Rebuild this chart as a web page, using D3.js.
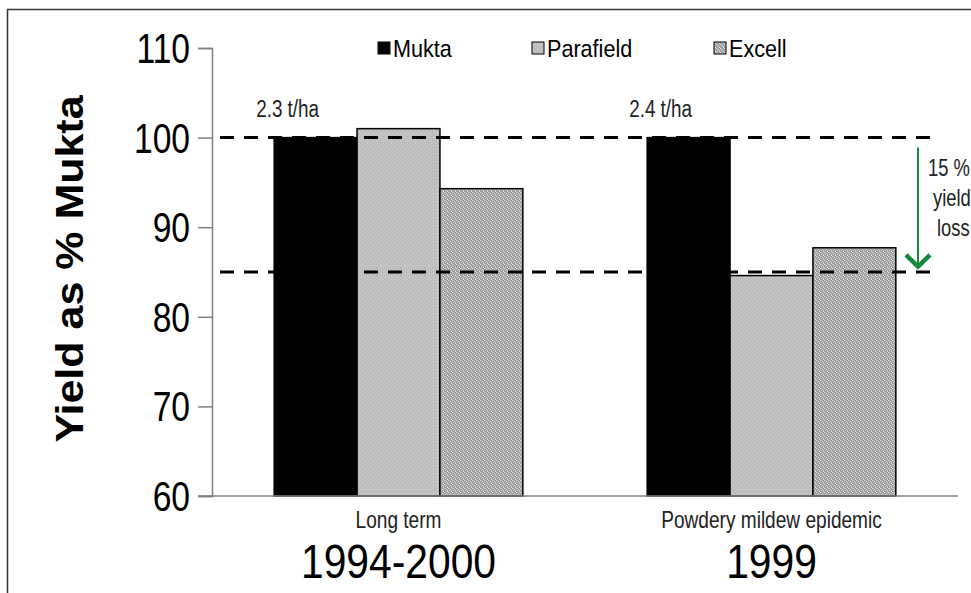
<!DOCTYPE html>
<html><head><meta charset="utf-8">
<script src="https://cdn.jsdelivr.net/npm/d3@7/dist/d3.min.js"></script>
<style>html,body{margin:0;padding:0;background:#fff;overflow:hidden}</style>
</head><body>
<svg id="c" width="971" height="593"></svg>
<script>
const categories = ["Long term", "Powdery mildew epidemic"];
const periods = ["1994-2000", "1999"];
const series = ["Mukta", "Parafield", "Excell"];
const mukta = [100, 100];
const parafield = [101.0, 84.6];
const excell = [94.3, 87.7];
const yieldLabels = ["2.3 t/ha", "2.4 t/ha"];
const yTicks = [60, 70, 80, 90, 100, 110];
const refLines = [100, 85];
const lossLabel = ["15 %", "yield", "loss"];

const values = [mukta, parafield, excell];
const svg = d3.select("#c");
const font = "'Liberation Sans', Arial, sans-serif";

function ctext(x, yy, str, size, sx, anchor, color, weight) {
  return svg.append("text")
    .attr("transform", `translate(${x},${yy}) scale(${sx},1)`)
    .attr("text-anchor", anchor || "start")
    .attr("font-family", font).attr("font-size", size)
    .attr("font-weight", weight || "normal")
    .attr("fill", color || "#000").text(str);
}

const defs = svg.append("defs");
const p1 = defs.append("pattern").attr("id","pPara").attr("patternUnits","userSpaceOnUse").attr("width",4).attr("height",4);
p1.append("rect").attr("width",4).attr("height",4).attr("fill","#bdbdbd");
p1.append("rect").attr("x",1).attr("y",1).attr("width",1).attr("height",1).attr("fill","#dedede");
p1.append("rect").attr("x",3).attr("y",3).attr("width",1).attr("height",1).attr("fill","#d2d2d2");
const p2 = defs.append("pattern").attr("id","pExc").attr("patternUnits","userSpaceOnUse").attr("width",4).attr("height",4);
p2.append("rect").attr("width",4).attr("height",4).attr("fill","#9c9c9c");
[[0,0,"#e2e2e2"],[2,1,"#d8d8d8"],[1,2,"#cfcfcf"],[3,3,"#e6e6e6"],[1,0,"#bcbcbc"],[3,2,"#c4c4c4"]].forEach(([px,py,c])=>{
  p2.append("rect").attr("x",px).attr("y",py).attr("width",1).attr("height",1).attr("fill",c);
});
const fills = ["#000000", "url(#pPara)", "url(#pExc)"];

svg.append("rect").attr("x",7.5).attr("y",9.5).attr("width",980).attr("height",600)
  .attr("fill","none").attr("stroke","#333").attr("stroke-width",1.5);

const y = d3.scaleLinear().domain([60,110]).range([496,48]);
const x0 = d3.scaleBand().domain(categories).range([212,958]).padding(0);
const bw = x0.bandwidth();
const x1 = d3.scaleBand().domain(series).range([bw/6, bw*5/6]).padding(0);

categories.forEach((cat, ci) => {
  series.forEach((s, si) => {
    const v = values[si][ci];
    svg.append("rect")
      .attr("x", x0(cat) + x1(s))
      .attr("y", y(v))
      .attr("width", x1.bandwidth())
      .attr("height", y(60) - y(v))
      .attr("fill", fills[si])
      .attr("stroke", "#000").attr("stroke-width", 1.5);
  });
});

const yAxis = d3.axisLeft(y).tickValues(yTicks).tickSize(14).tickFormat("");
const ga = svg.append("g").attr("transform","translate(212,0)").call(yAxis);
ga.select(".domain").attr("stroke","#808080").attr("stroke-width",1.5);
ga.selectAll(".tick line").attr("stroke","#808080").attr("stroke-width",1.5);
yTicks.forEach(t => {
  ctext(190, y(t) + 15, String(t), 42, 0.8, "end", "#000");
});

svg.append("line").attr("x1",198).attr("x2",958).attr("y1",y(60)).attr("y2",y(60))
  .attr("stroke","#808080").attr("stroke-width",1.5);

refLines.forEach(v => {
  svg.append("line").attr("x1",220).attr("x2",930).attr("y1",y(v)).attr("y2",y(v))
    .attr("stroke","#000").attr("stroke-width",3).attr("stroke-dasharray","14,10");
});

svg.append("text").attr("transform","translate(83,269) rotate(-90) scale(1,0.9)")
  .attr("text-anchor","middle").attr("font-family",font).attr("font-weight","bold")
  .attr("font-size",43).text("Yield as % Mukta");

categories.forEach((cat, i) => {
  const cx = x0(cat) + bw/2;
  ctext(cx, 528, cat, 23, 0.83, "middle", "#222");
  ctext(cx, 578, periods[i], 48, 0.85, "middle", "#000");
  ctext(x0(cat) + x1("Mukta") - 18, 117, yieldLabels[i], 23, 0.82, "start", "#222");
});

const legX = [378, 532, 714];
series.forEach((s, i) => {
  svg.append("rect").attr("x",legX[i]).attr("y",42).attr("width",12).attr("height",12)
    .attr("fill",fills[i]).attr("stroke","#000").attr("stroke-width",1);
  ctext(legX[i]+15, 57, s, 24, 0.9, "start", "#000");
});

const green = "#14893c";
const ax = 918;
svg.append("line").attr("x1",ax).attr("x2",ax).attr("y1",y(98.9)).attr("y2",y(85.6))
  .attr("stroke",green).attr("stroke-width",2);
svg.append("path").attr("d",`M${ax-12},${y(86.9)} L${ax},${y(85.6)} L${ax+12},${y(86.9)}`)
  .attr("fill","none").attr("stroke",green).attr("stroke-width",4.5);
const lossX = [928, 933, 937];
lossLabel.forEach((t,i) => {
  ctext(lossX[i], 176 + i*30, t, 23, 0.8, "start", "#222");
});
</script>
</body></html>
